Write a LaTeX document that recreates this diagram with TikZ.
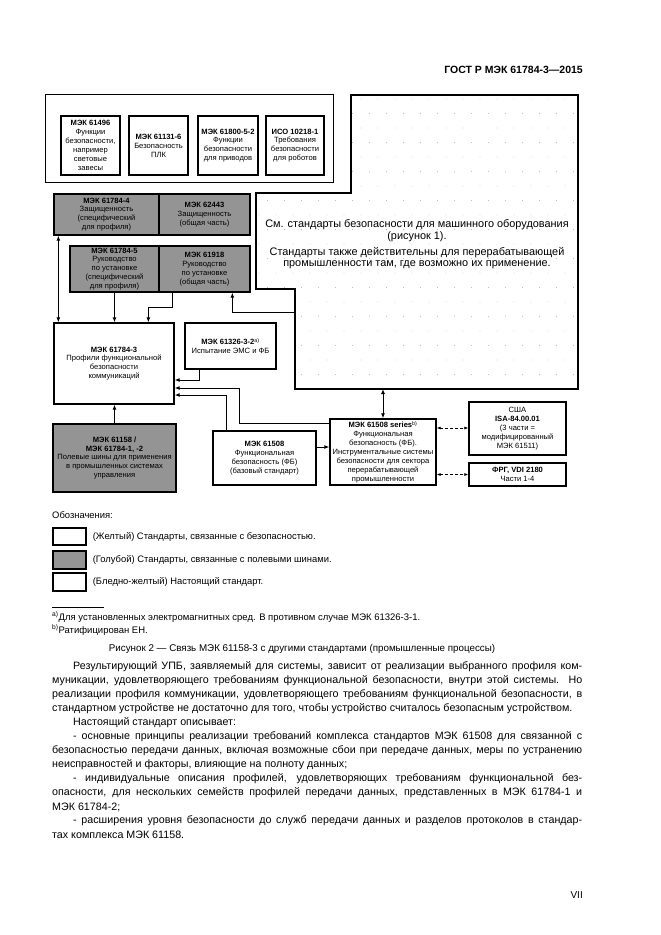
\documentclass[tikz,border=0pt]{standalone}
\usepackage{fontspec}
\setmainfont{Liberation Sans}
\usetikzlibrary{arrows.meta,positioning}
\colorlet{busgray}{black!42}
\colorlet{dotgray}{black!40}
\newcommand{\bxf}{\fontsize{7.6}{8.9}\selectfont}
\newcommand{\bodyf}{\fontsize{10.7}{14}\selectfont}
\newcommand{\legf}{\fontsize{9.4}{11}\selectfont}
\tikzstyle{box}=[draw,line width=1.3pt,align=center,font=\bxf,inner sep=0.5pt]
\tikzstyle{fbox}=[box,fill=busgray]
\tikzstyle{con}=[line width=1pt,-{Latex[length=5pt,width=4pt]}]
\tikzstyle{bcon}=[line width=1pt,{Latex[length=5pt,width=4pt]}-{Latex[length=5pt,width=4pt]}]
\tikzstyle{dcon}=[line width=0.7pt,densely dashed,{Latex[length=4pt,width=3pt]}-{Latex[length=4pt,width=3pt]}]
\tikzstyle{txt}=[anchor=west,inner sep=0pt]
\tikzstyle{bl}=[txt,font=\bodyf]

\begin{document}
\begin{tikzpicture}[x=1pt,y=-1pt]

	\useasboundingbox (0,0) rectangle (661,935);

	\node[anchor=east,inner sep=0pt,font=\fontsize{10.5}{12}\bfseries] (hd) at (583,70) {ГОСТ Р МЭК 61784-3—2015};

	\node[draw,line width=1pt,minimum width=288,minimum height=88] (mach) at (189,138) {};
	\node[box,minimum width=59,minimum height=59] (m1) at (90.5,145.5) {\textbf{МЭК 61496}\\Функции\\безопасности,\\например\\световые\\завесы};
	\node[box,minimum width=59,minimum height=59] (m2) at (158.5,145.5) {\textbf{МЭК 61131-6}\\Безопасность\\ПЛК};
	\node[box,minimum width=60,minimum height=59] (m3) at (228,145.5) {\textbf{МЭК 61800-5-2}\\Функции\\безопасности\\для приводов};
	\node[box,minimum width=58,minimum height=59] (m4) at (295,145.5) {\textbf{ИСО 10218-1}\\Требования\\безопасности\\для роботов};

	\begin{scope}
		\clip (351,95) -- (578,95) -- (578,389) -- (295,389) -- (295,289) -- (256,289) -- (256,193) -- (351,193) -- cycle;
		\foreach \i in {0,...,19}
			\foreach \j in {0,...,20}
				\fill[dotgray] ({259+17*\i+8.5*mod(\j,2)},{99+14.5*\j}) circle (0.45pt);
	\end{scope}
	\draw[line width=1.3pt] (351,95) -- (578,95) -- (578,389) -- (295,389) -- (295,289) -- (256,289) -- (256,193) -- (351,193) -- cycle;
	\node[align=center,font=\fontsize{10.9}{11.9}\selectfont] (mtxt) at (417,244.5) {См. стандарты безопасности для машинного оборудования\\(рисунок 1).\\[3.5pt]Стандарты также действительны для перерабатывающей\\промышленности там, где возможно их применение.};
	\coordinate (mL) at (295,312);
	\coordinate (mB) at (383,389);

	\node[fbox,minimum width=105,minimum height=41] (sec) at (106.5,214.5) {\textbf{МЭК 61784-4}\\Защищенность\\(специфический\\для профиля)};
	\node[fbox,minimum width=91,minimum height=41] (secg) at (204.5,214.5) {\textbf{МЭК 62443}\\Защищенность\\(общая часть)};
	\node[fbox,minimum width=89,minimum height=46] (inst) at (114.5,269) {\textbf{МЭК 61784-5}\\Руководство\\по установке\\(специфический\\для профиля)};
	\node[fbox,minimum width=91,minimum height=46] (instg) at (204.5,269) {\textbf{МЭК 61918}\\Руководство\\по установке\\(общая часть)};

	\node[box,minimum width=120,minimum height=81] (prof) at (114,363.5) {\textbf{МЭК 61784-3}\\Профили функциональной\\безопасности\\коммуникаций};
	\node[box,minimum width=91,minimum height=46] (emc) at (230.5,346) {\textbf{МЭК 61326-3-2}\textsuperscript{a)}\\Испытание ЭМС и ФБ};

	\node[fbox,minimum width=123,minimum height=68] (bus) at (114.5,458) {\textbf{МЭК 61158 /}\\\textbf{МЭК 61784-1, -2}\\Полевые шины для применения\\в промышленных системах\\управления};
	\node[box,minimum width=103,minimum height=54] (fs) at (264.5,458) {\textbf{МЭК 61508}\\Функциональная\\безопасность (ФБ)\\(базовый стандарт)};
	\node[box,minimum width=106,minimum height=66] (fss) at (383,452) {\textbf{МЭК 61508 series}\textsuperscript{b)}\\Функциональная\\безопасность (ФБ).\\Инструментальные системы\\безопасности для сектора\\перерабатывающей\\промышленности};
	\node[box,minimum width=97,minimum height=53] (usa) at (517.5,428.5) {США\\\textbf{ISA-84.00.01}\\(3 части =\\модифицированный\\МЭК 61511)};
	\node[box,minimum width=97,minimum height=23] (frg) at (517.5,474.5) {\textbf{ФРГ, VDI 2180}\\Части 1-4};

	\draw[bcon] ([xshift=5pt]sec.south west) -- ([xshift=5pt]prof.north west);
	\draw[con] (inst.south) -- (inst.south |- prof.north);
	\draw[con] ([xshift=14pt]instg.south west) -- ++(0,15) -| ([xshift=95pt]prof.north west);
	\draw[con] (mL) -| ([xshift=74pt]instg.south west);
	\draw[con] ([xshift=15.5pt]emc.south west) |- ([yshift=-16.5pt]prof.east);
	\draw[con] ([yshift=-5pt]fss.north west) -- ++(-90,0) |- ([yshift=-24.5pt]prof.east);
	\draw[con] ([xshift=14pt]fs.north west) |- ([yshift=-31.5pt]prof.east);
	\draw[con] (bus.north) -- (bus.north |- prof.south);
	\draw[con] ([yshift=11pt]fs.east) -- ([yshift=11pt]fs.east -| fss.west);
	\draw[bcon] (fss.north) -- (mB);
	\draw[dcon] ([yshift=24pt]fss.east) -- ([yshift=24pt]fss.east -| usa.west);
	\draw[dcon] (frg.west -| fss.east) -- (frg.west);

	\node[txt,font=\legf] (leg) at (52,515) {Обозначения:};
	\node[draw,line width=1.3pt,minimum width=33,minimum height=17] (ly) at (69.5,536.5) {};
	\node[draw,line width=1.3pt,fill=busgray,minimum width=33,minimum height=18] (lb) at (69.5,560) {};
	\node[draw,line width=1.3pt,minimum width=33,minimum height=18] (lp) at (69.5,582) {};
	\node[right=6pt of ly,inner sep=0pt,font=\legf] (ty) {(Желтый) Стандарты, связанные с безопасностью.};
	\node[right=6pt of lb,inner sep=0pt,font=\legf] (tb) {(Голубой) Стандарты, связанные с полевыми шинами.};
	\node[right=6pt of lp,inner sep=0pt,font=\legf] (tp) {(Бледно-желтый) Настоящий стандарт.};

	\draw[line width=0.6pt] (52,607) -- (104,607);
	\node[txt,font=\fontsize{9.5}{11}\selectfont] (fa) at (52,617) {\textsuperscript{a)}Для установленных электромагнитных сред. В противном случае МЭК 61326-3-1.};
	\node[txt,font=\fontsize{9.5}{11}\selectfont] (fb) at (52,630) {\textsuperscript{b)}Ратифицирован ЕН.};

	\node[inner sep=0pt,font=\fontsize{9.8}{12}\selectfont] (cap) at (302,649) {Рисунок 2 — Связь МЭК 61158-3 с другими стандартами (промышленные процессы)};

	\node[bl] (p1) at (52,667) {\makebox[530pt][s]{\hspace*{21pt}Результирующий УПБ, заявляемый для системы, зависит от реализации выбранного профиля ком-}};
	\node[bl] (p2) at (52,681) {\makebox[530pt][s]{муникации, удовлетворяющего требованиям функциональной безопасности, внутри этой системы. Но}};
	\node[bl] (p3) at (52,695) {\makebox[530pt][s]{реализации профиля коммуникации, удовлетворяющего требованиям функциональной безопасности, в}};
	\node[bl] (p4) at (52,709) {стандартном устройстве не достаточно для того, чтобы устройство считалось безопасным устройством.};
	\node[bl] (p5) at (52,723) {\hspace*{21pt}Настоящий стандарт описывает:};
	\node[bl] (p6) at (52,737) {\makebox[530pt][s]{\hspace*{21pt}- основные принципы реализации требований комплекса стандартов МЭК 61508 для связанной с}};
	\node[bl] (p7) at (52,751) {\makebox[530pt][s]{безопасностью передачи данных, включая возможные сбои при передаче данных, меры по устранению}};
	\node[bl] (p8) at (52,765) {неисправностей и факторы, влияющие на полноту данных;};
	\node[bl] (p9) at (52,779) {\makebox[530pt][s]{\hspace*{21pt}- индивидуальные описания профилей, удовлетворяющих требованиям функциональной без-}};
	\node[bl] (p10) at (52,793) {\makebox[530pt][s]{опасности, для нескольких семейств профилей передачи данных, представленных в МЭК 61784-1 и}};
	\node[bl] (p11) at (52,807) {МЭК 61784-2;};
	\node[bl] (p12) at (52,821) {\makebox[530pt][s]{\hspace*{21pt}- расширения уровня безопасности до служб передачи данных и разделов протоколов в стандар-}};
	\node[bl] (p13) at (52,835) {тах комплекса МЭК 61158.};

	\node[anchor=east,inner sep=0pt,font=\fontsize{10}{12}\selectfont] (pg) at (583,895) {VII};

\end{tikzpicture}
\end{document}
